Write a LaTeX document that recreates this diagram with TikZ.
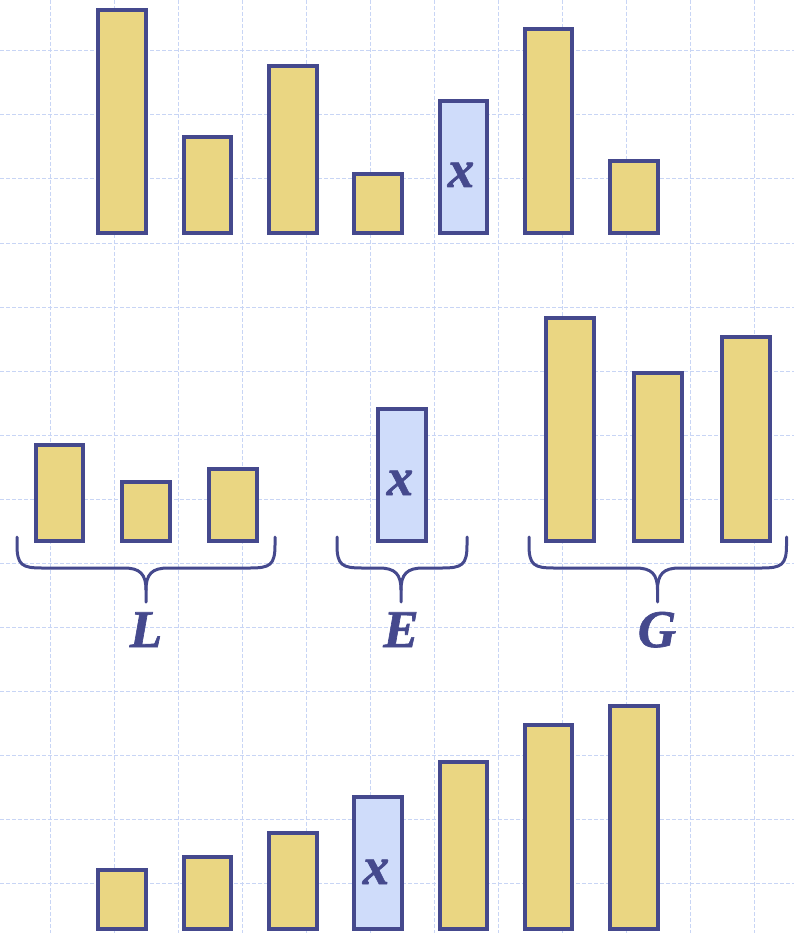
\documentclass[tikz,border=0pt]{standalone}
\usepackage{fontspec}
\setmainfont{Liberation Serif}
\newfontfamily\letterfont{Liberation Serif}[BoldItalicFeatures={FakeBold=1.2}]
\usetikzlibrary{calc}
\definecolor{edgeblue}{RGB}{69,73,141}
\definecolor{baryellow}{RGB}{234,214,130}
\definecolor{barblue}{RGB}{207,220,250}
\definecolor{gridblue}{RGB}{200,213,245}
\tikzset{
  bar/.style={draw=edgeblue, line width=4pt, fill=baryellow, minimum width=47.5pt, inner sep=0pt, outer sep=0pt, anchor=south},
  pivotbar/.style={bar, fill=barblue},
  gridline/.style={draw=gridblue, line width=1pt, dash pattern=on 4pt off 2pt},
  bracepath/.style={draw=edgeblue, line width=3pt, line cap=round},
  letter/.style={text=edgeblue, font=\letterfont\fontsize{53}{53}\selectfont\bfseries\itshape, inner sep=0pt, anchor=base},
}
\begin{document}
\begin{tikzpicture}[x=1pt,y=-1pt]
\useasboundingbox (0,0) rectangle (794,933);
% grid
\foreach \gx in {50,114,...,754} \draw[gridline] (\gx,0) -- (\gx,933);
\foreach \gy in {51,115,...,883} \draw[gridline] (0,\gy) -- (794,\gy);
% top row
\node[bar, minimum height=223pt] (t1) at (122,233) {};
\node[bar, minimum height=96pt]  (t2) at (207.5,233) {};
\node[bar, minimum height=167pt] (t3) at (293,233) {};
\node[bar, minimum height=59pt]  (t4) at (378,233) {};
\node[pivotbar, minimum height=132pt] (t5) at (463.5,233) {};
\node[bar, minimum height=204pt] (t6) at (548.5,233) {};
\node[bar, minimum height=72pt]  (t7) at (634,233) {};
\node[letter] (tx) at (461,187) {x};
% middle row
\node[bar, minimum height=96pt]  (l1) at (59.3,540.7) {};
\node[bar, minimum height=59pt]  (l2) at (146,540.7) {};
\node[bar, minimum height=72pt]  (l3) at (232.9,540.7) {};
\node[pivotbar, minimum height=132pt] (e1) at (402,540.7) {};
\node[bar, minimum height=223pt] (g1) at (570.2,540.7) {};
\node[bar, minimum height=168pt] (g2) at (658.2,540.7) {};
\node[bar, minimum height=204pt] (g3) at (746,540.7) {};
\node[letter] (ex) at (400,495) {x};
% braces
\coordinate (La) at (17,537);   \coordinate (Lb) at (275,537);   \coordinate (Lt) at (146,602);
\coordinate (Ea) at (337,537);  \coordinate (Eb) at (467,537);   \coordinate (Et) at (401,602);
\coordinate (Ga) at (529,537);  \coordinate (Gb) at (786.5,537); \coordinate (Gt) at (657.5,602);
\foreach \b in {L,E,G}{
  \draw[bracepath] (\b a) -- ($(\b a)+(0,8)$) .. controls ($(\b a)+(0,28)$) and ($(\b a)+(5,31)$) .. ($(\b a)+(25,31)$)
     -- ($(\b t)+(-22,-34)$) .. controls ($(\b t)+(-6,-34)$) and ($(\b t)+(0,-28)$) .. ($(\b t)+(0,-12)$) -- (\b t);
  \draw[bracepath] (\b b) -- ($(\b b)+(0,8)$) .. controls ($(\b b)+(0,28)$) and ($(\b b)+(-5,31)$) .. ($(\b b)+(-25,31)$)
     -- ($(\b t)+(22,-34)$) .. controls ($(\b t)+(6,-34)$) and ($(\b t)+(0,-28)$) .. ($(\b t)+(0,-12)$);
}
\node[letter] (labL) at (146,647) {L};
\node[letter] (labE) at (401,647) {E};
\node[letter] (labG) at (657,647) {G};
% bottom row
\node[bar, minimum height=59pt]  (b1) at (122,929) {};
\node[bar, minimum height=72pt]  (b2) at (207.5,929) {};
\node[bar, minimum height=96pt]  (b3) at (293,929) {};
\node[pivotbar, minimum height=132pt] (b4) at (378,929) {};
\node[bar, minimum height=167pt] (b5) at (463.5,929) {};
\node[bar, minimum height=204pt] (b6) at (548.5,929) {};
\node[bar, minimum height=223pt] (b7) at (634,929) {};
\node[letter] (bx) at (376,884) {x};
\end{tikzpicture}
\end{document}
